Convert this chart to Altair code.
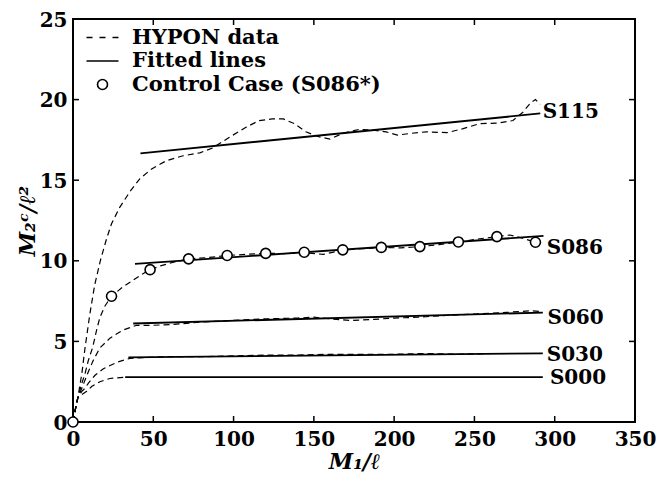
import altair as alt
import pandas as pd

# ---------------- data ----------------
series_names = ["S115", "S086", "S060", "S030", "S000"]

# HYPON data (dashed curves)
s115_x = [0, 1.5, 3, 5.5, 7.5, 10.5, 13.5, 17, 21, 24, 29, 35.5, 41.7, 49, 58, 68, 79, 87, 98, 108, 116, 124, 131, 138, 145, 153, 160, 168, 178, 187, 195, 202, 210, 220, 233, 243, 253, 265, 274, 280, 285, 288, 291]
s115_y = [0, 0.8, 1.5, 3.0, 4.6, 6.7, 8.5, 10.0, 11.4, 12.3, 13.3, 14.3, 15.1, 15.7, 16.2, 16.5, 16.7, 17.0, 17.7, 18.3, 18.7, 18.8, 18.8, 18.5, 18.0, 17.7, 17.55, 17.9, 18.15, 18.1, 18.0, 17.8, 17.9, 18.0, 17.95, 18.2, 18.5, 18.55, 18.7, 19.2, 19.8, 20.0, 19.7]

s086_x = [0, 1.5, 3, 5.5, 7.5, 9.5, 12.3, 14.7, 16.8, 19.9, 24, 30, 36, 42, 48, 55, 62, 72, 84, 96, 108, 120, 132, 144, 156, 168, 180, 192, 204, 216, 228, 240, 252, 264, 272, 280, 288]
s086_y = [0, 0.8, 1.5, 2.4, 3.0, 3.8, 4.65, 5.7, 6.5, 7.2, 7.8, 8.3, 8.7, 9.1, 9.45, 9.7, 9.9, 10.12, 10.2, 10.33, 10.4, 10.46, 10.45, 10.5, 10.4, 10.66, 10.75, 10.83, 10.8, 10.88, 11.0, 11.17, 11.35, 11.5, 11.6, 11.4, 11.15]

s060_x = [0, 1.5, 3, 5.5, 7.5, 9.5, 12.5, 16.8, 23, 31, 39.6, 50, 62, 80, 100, 120, 140, 150, 160, 172, 185, 200, 215, 230, 250, 270, 285, 292]
s060_y = [0, 0.8, 1.5, 2.1, 2.6, 3.1, 3.8, 4.6, 5.2, 5.7, 6.0, 6.0, 6.05, 6.2, 6.3, 6.4, 6.45, 6.5, 6.4, 6.3, 6.35, 6.45, 6.5, 6.6, 6.7, 6.8, 6.9, 6.85]

s030_x = [0, 1.5, 3, 5.5, 7.5, 9.5, 13.7, 18.9, 27.2, 35.5, 45, 60, 80, 100, 120, 140, 160, 180, 200, 220, 240, 260, 280, 292]
s030_y = [0, 0.8, 1.5, 1.9, 2.1, 2.4, 2.9, 3.3, 3.7, 3.95, 4.0, 4.05, 4.05, 4.1, 4.15, 4.15, 4.2, 4.2, 4.2, 4.25, 4.2, 4.25, 4.25, 4.25]

s000_x = [0, 1.5, 3, 5.5, 8.5, 11.6, 16.8, 23, 32.4]
s000_y = [0, 0.8, 1.5, 1.7, 1.9, 2.2, 2.5, 2.7, 2.78]

# Fitted lines (start / end)
fit_x0 = [42, 38.6, 37.5, 34.5, 32.5]
fit_y0 = [16.67, 9.81, 6.11, 4.01, 2.78]
fit_x1 = [291, 293, 292.6, 292.6, 292.6]
fit_y1 = [19.14, 11.54, 6.79, 4.26, 2.78]

# Series labels
label_x = [292.5, 295, 295.5, 295, 297]
label_y = [19.26, 10.8, 6.48, 4.14, 2.72]

# Control case (S086*)
ctrl_x = [0, 24, 48, 72, 96, 120, 144, 168, 192, 216, 240, 264, 288]
ctrl_y = [0, 7.8, 9.45, 10.12, 10.33, 10.46, 10.53, 10.68, 10.83, 10.88, 11.17, 11.5, 11.15]

x_ticks = [0, 50, 100, 150, 200, 250, 300, 350]
y_ticks = [0, 5, 10, 15, 20, 25]

legend_labels = ["HYPON data", "Fitted lines", "Control Case (S086*)"]

# ---------------- tables ----------------
hx = [s115_x, s086_x, s060_x, s030_x, s000_x]
hy = [s115_y, s086_y, s060_y, s030_y, s000_y]
rows = []
for name, xs, ys in zip(series_names, hx, hy):
    for i, (a, b) in enumerate(zip(xs, ys)):
        rows.append({"series": name, "x": a, "y": b, "i": i})
hypon = pd.DataFrame(rows)

fit_rows = []
for n, a0, b0, a1, b1 in zip(series_names, fit_x0, fit_y0, fit_x1, fit_y1):
    fit_rows.append({"series": n, "x": a0, "y": b0, "i": 0})
    fit_rows.append({"series": n, "x": a1, "y": b1, "i": 1})
fits = pd.DataFrame(fit_rows)

labels = pd.DataFrame({"name": series_names, "x": label_x, "y": label_y})
ctrl = pd.DataFrame({"x": ctrl_x, "y": ctrl_y, "kind": legend_labels[2]})
xt = pd.DataFrame({"v": x_ticks})
yt = pd.DataFrame({"v": y_ticks})

FONT = "DejaVu Serif"
W, H = 562, 403
TL = 6

xscale = alt.Scale(domain=[0, 350], nice=False, zero=False)
yscale = alt.Scale(domain=[0, 25], nice=False, zero=False)

xaxis = alt.Axis(values=x_ticks, ticks=False, domain=False, grid=False,
                 labelFont=FONT, labelFontWeight="bold", labelFontSize=20, labelColor="black",
                 labelPadding=7, labelFlush=False, labelOverlap=False,
                 title="M\u2081/\u2113", titleFont=FONT, titleFontStyle="italic",
                 titleFontWeight="bold", titleFontSize=22, titleColor="black", titlePadding=2)
yaxis = alt.Axis(values=y_ticks, ticks=False, domain=False, grid=False,
                 labelFont=FONT, labelFontWeight="bold", labelFontSize=20, labelColor="black",
                 labelPadding=6, labelFlush=False, labelOverlap=False, labelOffset=1,
                 title="M\u2082\u1D9C/\u2113\u00B2", titleFont=FONT, titleFontStyle="italic",
                 titleFontWeight="bold", titleFontSize=22, titleColor="black", titlePadding=0)

X = alt.X("x:Q", scale=xscale, axis=xaxis)
Y = alt.Y("y:Q", scale=yscale, axis=yaxis)

dashed = alt.Chart(hypon).mark_line(color="black", strokeWidth=1.2, strokeDash=[6, 4]).encode(
    x=X, y=Y, detail="series:N", order="i:Q")

fitted = alt.Chart(fits).mark_line(color="black", strokeWidth=1.8).encode(
    x="x:Q", y="y:Q", detail="series:N", order="i:Q")

dash_path = "M-3.2,0L-2.0,0M-0.6,0L0.6,0M2.0,0L3.2,0"
solid_path = "M-3.2,0L3.2,0"

legend = alt.Legend(title=None, orient="none", legendX=19, legendY=8, padding=0,
                    labelFont=FONT, labelFontWeight="bold", labelFontSize=21, labelColor="black",
                    labelOffset=19, labelLimit=400, rowPadding=1.5, symbolSize=100,
                    symbolStrokeWidth=1.6)

# white disc under each circle (hides the dashed line inside)
discs = alt.Chart(ctrl).mark_point(filled=True, shape="circle", color="white", size=100,
                                   opacity=1).encode(x="x:Q", y="y:Q")

points = alt.Chart(ctrl).mark_point(filled=False, color="black", strokeWidth=1.6,
                                    size=100, opacity=1).encode(
    x="x:Q", y="y:Q",
    shape=alt.Shape("kind:N", scale=alt.Scale(domain=legend_labels,
                                              range=[dash_path, solid_path, "circle"]),
                    legend=legend))

texts = alt.Chart(labels).mark_text(align="left", baseline="middle", font=FONT,
                                    fontWeight="bold", fontSize=20, color="black").encode(
    x="x:Q", y="y:Q", text="name:N")

tick_style = dict(color="black", strokeWidth=1.5)
bt = alt.Chart(xt).mark_rule(**tick_style).encode(x="v:Q", y=alt.value(H), y2=alt.value(H - TL))
tt = alt.Chart(xt).mark_rule(**tick_style).encode(x="v:Q", y=alt.value(0), y2=alt.value(TL))
lt = alt.Chart(yt).mark_rule(**tick_style).encode(y="v:Q", x=alt.value(0), x2=alt.value(TL))
rt = alt.Chart(yt).mark_rule(**tick_style).encode(y="v:Q", x=alt.value(W), x2=alt.value(W - TL))

chart = alt.layer(dashed, fitted, bt, tt, lt, rt, discs, points, texts).properties(
    width=W, height=H, autosize="none",
    padding={"left": 65, "top": 11, "right": 25, "bottom": 58},
    background="white",
).configure_view(stroke="black", strokeWidth=2)

chart.save("out.html", embed_options={"renderer": "svg", "actions": False})
